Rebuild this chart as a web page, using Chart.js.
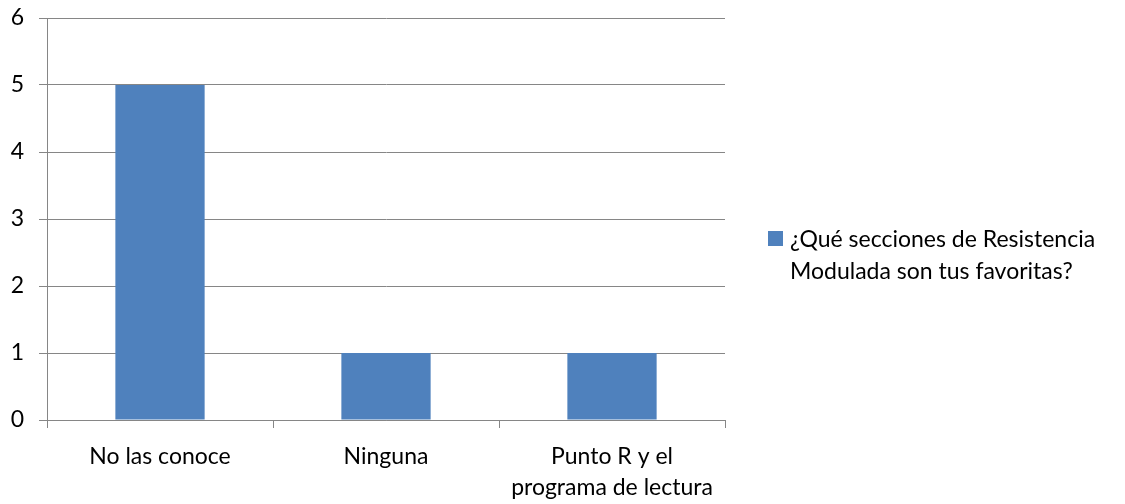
<!DOCTYPE html>
<html>
<head>
<meta charset="utf-8">
<script src="https://cdn.jsdelivr.net/npm/chart.js@4/dist/chart.umd.min.js"></script>
<style>
  html, body { margin: 0; padding: 0; background: #fff; }
  #wrap { width: 1125px; height: 504px; }
</style>
</head>
<body>
<div id="wrap"><canvas id="chart"></canvas></div>
<script>
// data
const categories = ['No las conoce', 'Ninguna', ['Punto R y el', 'programa de lectura']];
const values = [5, 1, 1];
const seriesName = '¿Qué secciones de Resistencia Modulada son tus favoritas?';
const legendLines = ['¿Qué secciones de Resistencia', 'Modulada son tus favoritas?'];

const FONT = 'Lato, "Noto Sans", sans-serif';
const GRID = '#868686';
const BAR = '#4F81BD';

// legend on the right, drawn by hand so the label can wrap like in Excel
const sideLegend = {
    id: 'sideLegend',
    afterDraw(chart) {
        const ctx = chart.ctx;
        const color = chart.data.datasets[0].backgroundColor;
        ctx.save();
        ctx.fillStyle = color;
        ctx.fillRect(768, 231, 15, 15);
        ctx.fillStyle = '#000';
        ctx.font = '23px ' + FONT;
        ctx.textBaseline = 'middle';
        ctx.textAlign = 'left';
        legendLines.forEach((line, i) => ctx.fillText(line, 790, 240 + i * 32));
        ctx.restore();
    }
};

new Chart(document.getElementById('chart'), {
    type: 'bar',
    data: {
        labels: categories,
        datasets: [{
            label: seriesName,
            data: values,
            backgroundColor: BAR,
            barPercentage: 0.395,
            categoryPercentage: 1
        }]
    },
    options: {
        responsive: true,
        maintainAspectRatio: false,
        animation: false,
        layout: { padding: { top: 18, right: 400, left: 0, bottom: 0 } },
        plugins: {
            legend: { display: false },
            tooltip: { enabled: false }
        },
        scales: {
            x: {
                afterFit: s => { s.height = 84; s.paddingLeft = 0; s.paddingRight = 0; },
                grid: {
                    offset: true,
                    drawOnChartArea: false,
                    color: GRID,
                    tickLength: 8
                },
                border: { color: GRID },
                ticks: {
                    color: '#000',
                    font: { family: FONT, size: 23, lineHeight: 1.35 },
                    padding: 13,
                    maxRotation: 0
                }
            },
            y: {
                min: 0,
                max: 6,
                afterFit: s => { s.width = 47; s.paddingTop = 0; s.paddingBottom = 0; },
                grid: { color: GRID, tickLength: 8 },
                border: { color: GRID },
                ticks: {
                    stepSize: 1,
                    color: '#000',
                    font: { family: FONT, size: 23 },
                    padding: 15
                }
            }
        }
    },
    plugins: [sideLegend]
});
</script>
</body>
</html>
